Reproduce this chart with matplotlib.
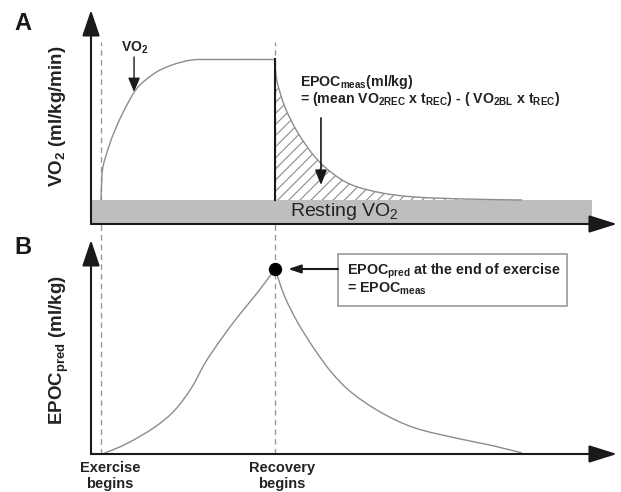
import matplotlib
matplotlib.use("Agg")
import matplotlib.pyplot as plt
from matplotlib.patches import Rectangle, PathPatch
from matplotlib.path import Path

plt.rcParams['font.family'] = ['Liberation Sans', 'DejaVu Sans']
plt.rcParams['mathtext.fontset'] = 'custom'
plt.rcParams['mathtext.rm'] = 'Liberation Sans'
plt.rcParams['mathtext.default'] = 'regular'
plt.rcParams['hatch.color'] = '#8c8c8c'
plt.rcParams['hatch.linewidth'] = 0.8

# time axis (arbitrary units): exercise begins at 0, recovery begins at 10
t_ex_start = 0.0
t_rec_start = 10.0

# panel A: VO2 during exercise (rise) and recovery (decay), arbitrary units
vo2_rise_t = [0, 0.03, 0.11, 0.52, 0.98, 1.55, 2.13, 3.10, 4.08, 5.23, 6.55, 10.0]
vo2_rise_y = [2.4, 3.9, 5.7, 8.1, 10.1, 12.1, 13.7, 15.1, 15.9, 16.4, 16.45, 16.45]
vo2_rec_t = [10.0, 10.1, 10.57, 11.32, 12.3, 13.28, 14.43, 16.15, 18.05, 20.92, 24.2]
vo2_rec_y = [16.4, 14.4, 11.7, 9.1, 6.7, 5.1, 3.9, 3.1, 2.7, 2.5, 2.4]
vo2_rest = 2.4
rest_band_end = 28.2

# panel B: predicted EPOC, rising during exercise then decaying in recovery
epoc_ex_t = [0, 0.23, 1.55, 3.1, 4.25, 5.23, 5.98, 6.95, 7.99, 9.02, 10.0]
epoc_ex_y = [0, 0.1, 1.1, 2.7, 4.4, 6.7, 9.1, 11.6, 14.0, 16.2, 18.5]
epoc_rec_t = [10.0, 10.57, 11.32, 12.3, 13.28, 14.43, 16.15, 18.05, 20.52, 22.47, 24.2]
epoc_rec_y = [18.5, 15.7, 13.1, 10.4, 8.1, 6.1, 4.1, 2.6, 1.55, 0.85, 0.1]
epoc_peak = 18.5

XLIM = (-0.575, 29.655)
YLIM = (0, 21.4)
curve_col = '#8c8c8c'
axis_col = '#1a1a1a'
dash_col = '#9a9a9a'
text_col = '#222222'


def smooth_verts(xs, ys):
    # catmull-rom through the points, drawn as cubic bezier segments
    pts = list(zip(xs, ys))
    verts = [pts[0]]
    codes = [Path.MOVETO]
    n = len(pts)
    for i in range(n - 1):
        p0 = pts[i - 1] if i > 0 else pts[i]
        p1 = pts[i]
        p2 = pts[i + 1]
        p3 = pts[i + 2] if i + 2 < n else pts[i + 1]
        c1 = (p1[0] + (p2[0] - p0[0]) / 6, p1[1] + (p2[1] - p0[1]) / 6)
        c2 = (p2[0] - (p3[0] - p1[0]) / 6, p2[1] - (p3[1] - p1[1]) / 6)
        verts += [c1, c2, p2]
        codes += [Path.CURVE4] * 3
    return verts, codes


def smooth_line(ax, xs, ys, **kw):
    verts, codes = smooth_verts(xs, ys)
    ax.add_patch(PathPatch(Path(verts, codes), facecolor='none', **kw))


fig = plt.figure(figsize=(6.21, 4.92), dpi=100)
axA = fig.add_axes([91/621, 268/492, 526/621, 214/492])
axB = fig.add_axes([91/621, 38/492, 526/621, 214/492])

for ax in (axA, axB):
    ax.set_xlim(*XLIM)
    ax.set_ylim(*YLIM)
    ax.axis('off')
    # axes with arrow heads
    ax.annotate('', xy=(1, 0), xytext=(0, 0), xycoords='axes fraction',
                arrowprops=dict(arrowstyle='-|>,head_length=1.73,head_width=0.54',
                                mutation_scale=10, lw=1.5, color=axis_col,
                                shrinkA=0, shrinkB=0), zorder=6)
    ax.annotate('', xy=(0, 1), xytext=(0, 0), xycoords='axes fraction',
                arrowprops=dict(arrowstyle='-|>,head_length=1.6,head_width=0.54',
                                mutation_scale=10, lw=1.5, color=axis_col,
                                shrinkA=0, shrinkB=0), zorder=6)

# dashed markers for exercise / recovery start
for tx in (t_ex_start, t_rec_start):
    axA.axvline(tx, ymin=-0.075, ymax=0.85, color=dash_col, lw=1, ls=(0, (4, 3)),
                clip_on=False, zorder=1)
    axB.axvline(tx, ymin=0, ymax=1, color=dash_col, lw=1, ls=(0, (4, 3)), zorder=1)

# ---- panel A ----
axA.add_patch(Rectangle((XLIM[0], 0.1), rest_band_end - XLIM[0], vo2_rest - 0.1,
                        facecolor='#bebebe', edgecolor='none', zorder=3))
axA.text(13.97, 1.2, 'Resting VO$_2$', fontsize=14, ha='center', va='center',
         color=text_col, zorder=4)

smooth_line(axA, vo2_rise_t, vo2_rise_y, edgecolor=curve_col, lw=1.0, zorder=4)
smooth_line(axA, vo2_rec_t, vo2_rec_y, edgecolor=curve_col, lw=1.0, zorder=4)
axA.plot([t_rec_start, t_rec_start], [vo2_rest, vo2_rise_y[-1]], color=axis_col,
         lw=1.5, zorder=5)

# hatched EPOC area between recovery curve and resting level
hv, hc = smooth_verts(vo2_rec_t, vo2_rec_y)
hv += [(vo2_rec_t[-1], vo2_rest), (vo2_rec_t[0], vo2_rest), hv[0]]
hc += [Path.LINETO, Path.LINETO, Path.CLOSEPOLY]
axA.add_patch(PathPatch(Path(hv, hc), facecolor='none', hatch='///',
                        edgecolor='#8c8c8c', linewidth=0, zorder=2))

axA.text(1.95, 17.6, 'VO$_2$', fontsize=10, fontweight='bold', ha='center',
         va='center', color=text_col)
axA.annotate('', xy=(1.9, 13.2), xytext=(1.9, 16.7),
             arrowprops=dict(arrowstyle='-|>,head_length=0.86,head_width=0.36',
                             mutation_scale=10, lw=1.0, color=axis_col,
                             shrinkA=0, shrinkB=0))

axA.text(11.44, 14.2, 'EPOC$_{meas}$(ml/kg)', fontsize=10.2, fontweight='bold',
         ha='left', va='center', color=text_col)
axA.text(11.44, 12.5, '= (mean VO$_{2REC}$ x t$_{REC}$) - ( VO$_{2BL}$ x t$_{REC}$)',
         fontsize=10.2, fontweight='bold', ha='left', va='center', color=text_col)
axA.annotate('', xy=(12.64, 3.9), xytext=(12.64, 10.6),
             arrowprops=dict(arrowstyle='-|>,head_length=0.9,head_width=0.36',
                             mutation_scale=10, lw=1.2, color=axis_col,
                             shrinkA=0, shrinkB=0), zorder=6)

# ---- panel B ----
smooth_line(axB, epoc_ex_t, epoc_ex_y, edgecolor=curve_col, lw=1.0, zorder=4)
smooth_line(axB, epoc_rec_t, epoc_rec_y, edgecolor=curve_col, lw=1.0, zorder=4)
axB.plot([t_rec_start], [epoc_peak], 'o', color='black', ms=8.6, zorder=6)

axB.add_patch(Rectangle((13.62, 14.8), 13.16, 5.2, facecolor='white',
                        edgecolor='#999999', lw=1.2, zorder=5))
axB.text(14.14, 18.3, 'EPOC$_{pred}$ at the end of exercise', fontsize=10.3,
         fontweight='bold', ha='left', va='center', color=text_col, zorder=6)
axB.text(14.14, 16.5, '= EPOC$_{meas}$', fontsize=10.3, fontweight='bold',
         ha='left', va='center', color=text_col, zorder=6)
axB.annotate('', xy=(10.75, epoc_peak), xytext=(13.62, epoc_peak),
             arrowprops=dict(arrowstyle='-|>,head_length=0.75,head_width=0.25',
                             mutation_scale=10, lw=1.5, color=axis_col,
                             shrinkA=0, shrinkB=0), zorder=6)

axB.text(0.52, -2.2, 'Exercise\nbegins', fontsize=10.5, fontweight='bold',
         ha='center', va='center', color=text_col, linespacing=1.15, clip_on=False)
axB.text(10.4, -2.2, 'Recovery\nbegins', fontsize=10.5, fontweight='bold',
         ha='center', va='center', color=text_col, linespacing=1.15, clip_on=False)

# labels
fig.text(57/621, 1 - 116/492, 'VO$_2$ (ml/kg/min)', rotation=90, fontsize=13.5,
         fontweight='bold', ha='center', va='center', color=text_col)
fig.text(59/621, 1 - 350/492, 'EPOC$_{pred}$ (ml/kg)', rotation=90, fontsize=13.5,
         fontweight='bold', ha='center', va='center', color=text_col)
fig.text(23/621, 1 - 23/492, 'A', fontsize=17, fontweight='bold', ha='center',
         va='center', color='#1a1a1a')
fig.text(23/621, 1 - 247/492, 'B', fontsize=17, fontweight='bold', ha='center',
         va='center', color='#1a1a1a')

fig.savefig('out.png', dpi=100)
